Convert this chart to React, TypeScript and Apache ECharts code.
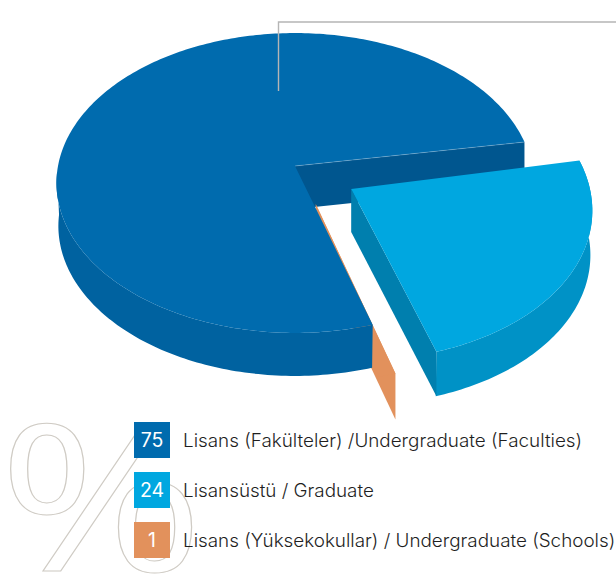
import React, { useEffect, useRef } from "react";
import * as echarts from "echarts";

const shares = [75, 24, 1];
const labels = [
  "Lisans (Fakülteler) /Undergraduate (Faculties)",
  "Lisansüstü / Graduate",
  "Lisans (Yüksekokullar) / Undergraduate (Schools)",
];
const topColors = ["#006BAE", "#00A7E0", "#E2915C"];
const wallColors = ["#0062A0", "#0092C6", "#E2915C"];
const cutColors = ["#00568F", "#007FAE", "#E2915C"];
// Perspective trim: the drawn sweep differs from value x 3.6 by these degrees
const sweepTrim = [7.5, -2.4, 0];
const sliceStart = [73, -11, 73.7];
const explode = [[0, 0], [0.233, 0.152], [0.085, 0.25]];
const radius = [1, 0.99, 1];
// drawing order: [slice, layer]
const drawOrder = [[0, 0], [2, 0], [0, 1], [1, 0]];

const AX = 295, AY = 166, RX = 237, RY = 148, K = -0.1133, DEPTH = 43;
const BASE_NARROW = 0.992;

function project(u: number, v: number): number[] {
  const w = 1 + K * v;
  return [AX + (RX * u) / w, AY + (RY * v) / w];
}
function sliceGeom(i: number, value: number) {
  const a0 = sliceStart[i];
  const a1 = a0 + value * 3.6 + sweepTrim[i];
  const [du, dv] = explode[i];
  const r = radius[i];
  const pt = (deg: number) => {
    const t = (deg * Math.PI) / 180;
    return project(du + r * Math.cos(t), dv + r * Math.sin(t));
  };
  const arc: number[][] = [];
  const n = Math.max(2, Math.ceil(a1 - a0));
  for (let k = 0; k <= n; k++) arc.push(pt(a0 + ((a1 - a0) * k) / n));
  return { apex: project(du, dv), arc };
}
const down = (p: number[], d: number) => [p[0], p[1] + d];
const poly = (points: number[][], fill: string) => ({
  type: "polygon",
  shape: { points },
  style: { fill, stroke: null },
  silent: true,
});

function renderItem(_: any, api: any) {
  const i = api.value(0);
  const layer = api.value(1);
  const { apex, arc } = sliceGeom(i, shares[i]);
  const first = arc[0];
  const last = arc[arc.length - 1];
  const children: any[] = [];
  const base = (p: number[], d: number) => [apex[0] + (p[0] - apex[0]) * BASE_NARROW, p[1] + d];
  if (i === 0 && layer === 0) {
    // cut face on the far edge of the big slice
    children.push(poly([apex, last, down(last, DEPTH), down(apex, DEPTH)], cutColors[0]));
  } else if (i === 0) {
    // only the near half of the rim is ever seen
    const rim = arc.filter((p) => p[1] >= 170);
    children.push(poly([...rim, ...rim.map((p) => base(p, DEPTH)).reverse()], wallColors[0]));
    children.push(poly([apex, ...arc], topColors[0]));
    children.push({
      type: "line",
      shape: { x1: apex[0], y1: apex[1], x2: last[0], y2: last[1] },
      style: { stroke: "rgba(255,255,255,0.28)", lineWidth: 0.8 },
      silent: true,
    });
  } else if (i === 1) {
    const d = 44.5;
    const rim = [...arc.map((p) => base(p, d)).reverse()];
    children.push(poly([...arc, ...rim], wallColors[1]));
    children.push(poly([apex, last, down(last, d), down(apex, 43)], cutColors[1]));
    children.push(poly([apex, ...arc], topColors[1]));
  } else {
    const d = 46;
    children.push(poly([apex, first, down(first, d), down(apex, d)], cutColors[2]));
    children.push(poly([apex, ...arc], topColors[2]));
  }
  return { type: "group", children };
}

export default function App() {
  const ref = useRef<HTMLDivElement>(null);
  useEffect(() => {
    document.body.style.margin = "0";
    const chart = echarts.init(ref.current!, null, { renderer: "svg" });
    const legendY = [440, 490, 540];
    const graphic: any[] = [
      {
        type: "text",
        z: 1,
        x: 101,
        y: 492,
        scaleX: 1.22,
        style: {
          text: "%",
          font: '400 204px "Open Sans"',
          align: "center",
          verticalAlign: "middle",
          fill: "rgba(255,255,255,0)",
          stroke: "#CFCBC4",
          lineWidth: 1,
        },
      },
      {
        type: "polyline",
        z: 10,
        shape: { points: [[278.5, 91], [278.5, 22], [616, 22]] },
        style: { stroke: "#B5B5B5", lineWidth: 1.4, fill: null },
      },
    ];
    shares.forEach((v, i) => {
      graphic.push({
        type: "rect",
        z: 5,
        shape: { x: 134, y: legendY[i] - 18, width: 36, height: 36 },
        style: { fill: topColors[i] },
      });
      graphic.push({
        type: "text",
        z: 6,
        x: 152,
        y: legendY[i],
        style: {
          text: String(v),
          font: '400 19.5px "Inter"',
          align: "center",
          verticalAlign: "middle",
          fill: "#FFFFFF",
        },
      });
      graphic.push({
        type: "text",
        z: 6,
        x: 183,
        y: legendY[i],
        scaleX: 1.03,
        style: {
          text: labels[i],
          font: '300 18.3px "Inter"',
          align: "left",
          verticalAlign: "middle",
          fill: "#1F1F1F",
        },
      });
    });
    chart.setOption({
      animation: false,
      graphic,
      series: [
        {
          type: "custom",
          coordinateSystem: "none",
          renderItem,
          silent: true,
          clip: false,
          data: drawOrder,
        },
      ],
    });
    return () => chart.dispose();
  }, []);
  return <div ref={ref} style={{ width: 616, height: 576, overflow: "hidden" }} />;
}
